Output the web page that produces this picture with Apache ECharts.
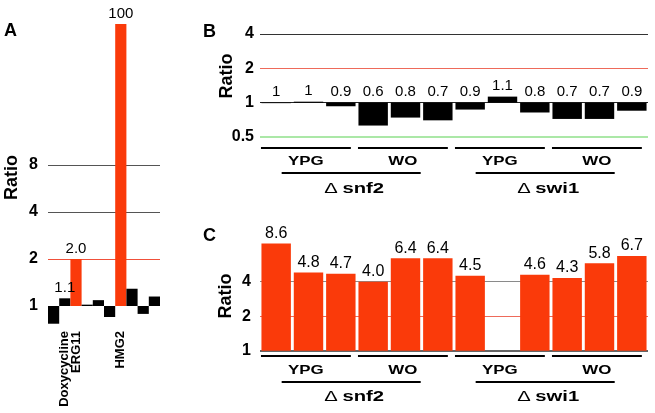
<!DOCTYPE html>
<html><head><meta charset="utf-8">
<script src="https://cdn.jsdelivr.net/npm/echarts@6/dist/echarts.min.js"></script>
<style>html,body{margin:0;padding:0;background:#fff}#c{width:655px;height:413px}</style>
</head><body><div id="c"></div>
<script>
const FONT = 'Liberation Sans, Arial, Helvetica, sans-serif';
const RED = '#fa3a0a';

// ---- Panel A data ----
const aCategories = ['', 'Doxycycline', 'ERG11', '', '', '', 'HMG2', '', '', ''];
const aValues = [0.77, 1.12, 2.0, 1.02, 1.09, 0.85, 100, 1.29, 0.89, 1.15];
const aLabels = ['', '1.1', '2.0', '', '', '', '100', '', '', ''];
const aHighlighted = [false, false, true, false, false, false, true, false, false, false];
const aTicks = [1, 2, 4, 8];
const aRefLines = [8, 4, 2];

// ---- Panel B data ----
const bValues = [0.99, 1.02, 0.93, 0.63, 0.74, 0.70, 0.87, 1.13, 0.82, 0.72, 0.72, 0.85];
const bLabels = ['1', '1', '0.9', '0.6', '0.8', '0.7', '0.9', '1.1', '0.8', '0.7', '0.7', '0.9'];
const bTicks = [0.5, 1, 2, 4];
const bRefLines = [4, 2, 1, 0.5];

// ---- Panel C data ----
const cValues = [8.6, 4.8, 4.7, 4.0, 6.4, 6.4, 4.5, null, 4.6, 4.3, 5.8, 6.7];
const cLabels = ['8.6', '4.8', '4.7', '4.0', '6.4', '6.4', '4.5', '', '4.6', '4.3', '5.8', '6.7'];
const cTicks = [1, 2, 4];
const cRefLines = [4, 2, 1];

// ---- shared grouping ----
const strains = ['snf2', 'swi1'];
const conditions = ['YPG', 'WO'];
const replicates = [1, 2, 3];
const bcCategories = [];
strains.forEach(s => conditions.forEach(c => replicates.forEach(r => bcCategories.push(s + ' ' + c + ' ' + r))));

const refColorsA = { 8: '#555', 4: '#555', 2: '#f0503a' };
const refColorsB = { 4: '#333', 2: '#ee6a5a', 1: '#222', 0.5: '#8fe08a' };
const refColorsC = { 4: '#8a8a8a', 2: '#ee6a5a', 1: '#333' };

function tickFormatter(ticks) {
  return v => (ticks.some(t => Math.abs(t - v) < 1e-6) ? String(v) : '');
}
function refLines(vals, colors, widths) {
  return {
    silent: true, symbol: ['none', 'none'], z: 1,
    label: { show: false },
    data: vals.map(v => ({ yAxis: v, lineStyle: { color: colors[v], width: (widths && widths[v]) || 1, type: 'solid' } }))
  };
}
const tickStyle = size => ({ fontFamily: FONT, fontWeight: 'bold', fontSize: size, color: '#000' });
const nameStyle = pad => ({ fontFamily: FONT, fontWeight: 'bold', fontSize: 18, color: '#000', padding: [0, 0, 0, pad] });
const letterStyle = { fontFamily: FONT, fontWeight: 'bold', fontSize: 18, color: '#000' };

const chart = echarts.init(document.getElementById('c'), null, { renderer: 'canvas' });

const option = {
  animation: false,
  backgroundColor: '#fff',
  title: [
    { text: 'A', left: 4, top: 22, padding: 0, textStyle: letterStyle },
    { text: 'B', left: 203, top: 23, padding: 0, textStyle: letterStyle },
    { text: 'C', left: 203, top: 227, padding: 0, textStyle: letterStyle }
  ],
  grid: [
    { left: 48, width: 112, top: 24, height: 329 },
    { left: 260, width: 388, top: 34, height: 103 },
    { left: 260, width: 388, top: 241.3, height: 109.4 }
  ],
  xAxis: [
    { type: 'category', gridIndex: 0, data: aCategories,
      axisLine: { show: false }, axisTick: { show: false },
      axisLabel: { interval: 0, rotate: 90, margin: -22, fontFamily: FONT, fontWeight: 'bold', fontSize: 13, color: '#000' } },
    { type: 'category', gridIndex: 1, data: bcCategories,
      axisLine: { show: false }, axisTick: { show: false }, axisLabel: { show: false } },
    { type: 'category', gridIndex: 2, data: bcCategories,
      axisLine: { show: false }, axisTick: { show: false }, axisLabel: { show: false } }
  ],
  yAxis: [
    { type: 'log', logBase: 2, gridIndex: 0, min: 0.5, max: 64,
      name: 'Ratio', nameLocation: 'middle', nameGap: 27, nameMoveOverlap: false, nameTextStyle: nameStyle(22),
      axisLine: { show: false }, axisTick: { show: false }, splitLine: { show: false },
      axisLabel: { margin: 10, formatter: tickFormatter(aTicks), ...tickStyle(16) } },
    { type: 'log', logBase: 2, gridIndex: 1, min: 0.5, max: 4,
      name: 'Ratio', nameLocation: 'middle', nameGap: 24, nameMoveOverlap: false, nameTextStyle: nameStyle(19),
      axisLine: { show: false }, axisTick: { show: false }, splitLine: { show: false },
      axisLabel: { margin: 6, formatter: tickFormatter(bTicks), ...tickStyle(16) } },
    { type: 'log', logBase: 2, gridIndex: 2, min: 1, max: 9,
      name: 'Ratio', nameLocation: 'middle', nameGap: 25, nameMoveOverlap: false, nameTextStyle: nameStyle(0),
      axisLine: { show: false }, axisTick: { show: false }, splitLine: { show: false },
      axisLabel: { margin: 9, formatter: tickFormatter(cTicks), ...tickStyle(16) } }
  ],
  series: [
    { type: 'bar', xAxisIndex: 0, yAxisIndex: 0, barCategoryGap: 0, clip: true, z: 2,
      data: aValues.map((v, i) => ({ value: v, itemStyle: { color: aHighlighted[i] ? RED : '#000' } })),
      label: { show: true, position: 'top', distance: 3, fontFamily: FONT, fontSize: 15, color: '#000',
        formatter: p => aLabels[p.dataIndex] },
      markLine: refLines(aRefLines, refColorsA) },
    { type: 'bar', xAxisIndex: 1, yAxisIndex: 1, barCategoryGap: '9%', clip: true, z: 2,
      itemStyle: { color: '#000' },
      data: bValues,
      label: { show: true, position: 'top', distance: 3, fontFamily: FONT, fontSize: 15, color: '#000',
        formatter: p => bLabels[p.dataIndex] },
      markLine: refLines(bRefLines, refColorsB, { 0.5: 1.5 }) },
    { type: 'bar', xAxisIndex: 2, yAxisIndex: 2, barCategoryGap: '9%', clip: false, z: 2,
      itemStyle: { color: RED },
      data: cValues,
      label: { show: true, position: 'top', distance: 2, fontFamily: FONT, fontSize: 16, color: '#000',
        formatter: p => cLabels[p.dataIndex] },
      markLine: refLines(cRefLines, refColorsC, { 1: 1.5 }) }
  ]
};
chart.setOption(option);

// ---- group brackets under panels B and C, placed through the axes ----
const bracketOffsets = {
  1: { yMin: 0.5, off: [10.7, 24.5, 36.3, 51.5] },
  2: { yMin: 1, off: [5, 19.3, 31.6, 45.8] }
};
function brackets(axisIndex) {
  const cfg = bracketOffsets[axisIndex];
  const c0 = chart.convertToPixel({ xAxisIndex: axisIndex }, 0);
  const c1 = chart.convertToPixel({ xAxisIndex: axisIndex }, 1);
  const band = c1 - c0;
  const yb = chart.convertToPixel({ yAxisIndex: axisIndex }, cfg.yMin);
  const els = [];
  const per = replicates.length;
  let g = 0;
  strains.forEach((s, si) => {
    conditions.forEach(cond => {
      const left = c0 - band / 2 + g * per * band;
      const right = left + per * band;
      const x1 = left + 0.03 * band, x2 = right - 0.19 * band;
      const y = Math.round(yb + cfg.off[0]);
      els.push({ type: 'line', silent: true, shape: { x1, y1: y, x2, y2: y }, style: { stroke: '#000', lineWidth: 2 } });
      els.push({ type: 'text', silent: true, x: (x1 + x2) / 2, y: yb + cfg.off[1], scaleX: 1.3,
        style: { text: cond, fill: '#000', fontFamily: FONT, fontWeight: 'bold', fontSize: 13, align: 'center', verticalAlign: 'middle' } });
      g++;
    });
    const span = per * conditions.length;
    const left = c0 - band / 2 + si * span * band;
    const right = left + span * band;
    const x1 = left + 0.67 * band, x2 = right - 1.03 * band;
    const y = Math.round(yb + cfg.off[2]);
    els.push({ type: 'line', silent: true, shape: { x1, y1: y, x2, y2: y }, style: { stroke: '#000', lineWidth: 2 } });
    els.push({ type: 'text', silent: true, x: (x1 + x2) / 2 + 3, y: yb + cfg.off[3], scaleX: 1.35,
      style: { text: '{d|Δ} {b|' + s + '}', fill: '#000', align: 'center', verticalAlign: 'middle',
        rich: { d: { fontFamily: FONT, fontSize: 15, fill: '#000' }, b: { fontFamily: FONT, fontWeight: 'bold', fontSize: 15, fill: '#000' } } } });
  });
  return els;
}
chart.setOption({ graphic: { elements: brackets(1).concat(brackets(2)) } });
</script>
</body></html>
